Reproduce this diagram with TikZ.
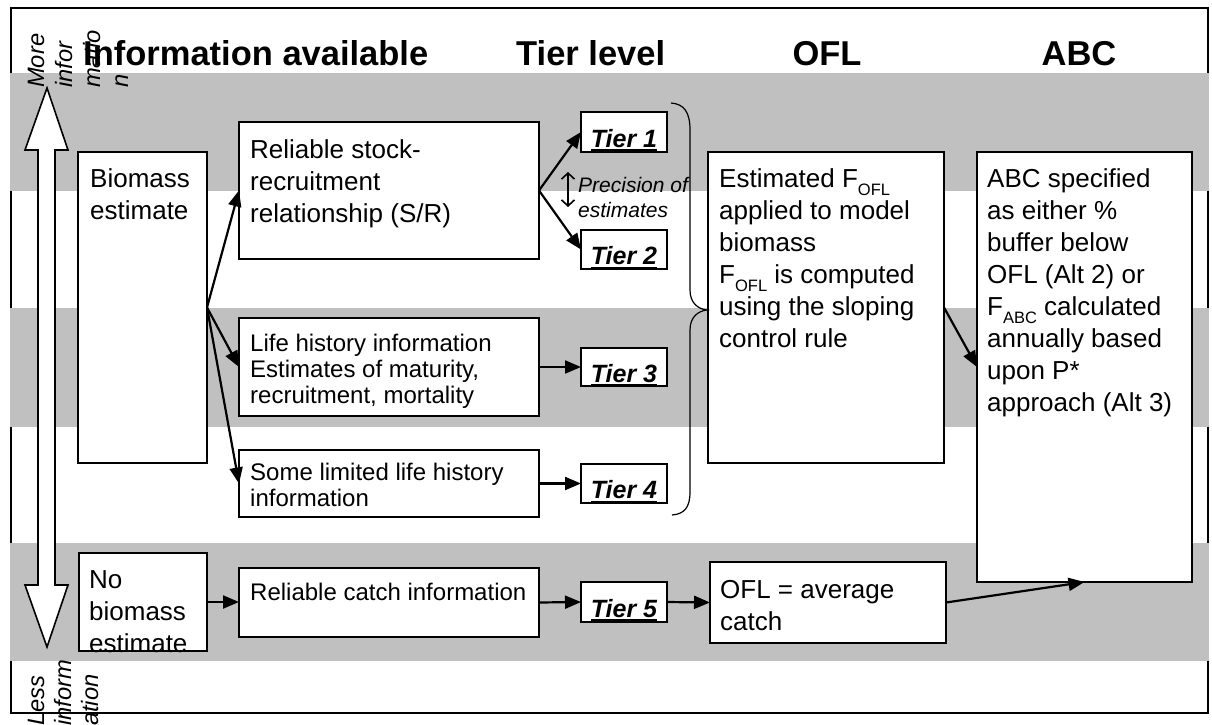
\documentclass[tikz,border=0pt]{standalone}
\usepackage{fontspec}
\setmainfont{Liberation Sans}
\usetikzlibrary{arrows.meta}
\definecolor{band}{RGB}{192,192,192}
\newcommand\tb[1]{\parbox[t]{400pt}{\raggedright #1}}
\newcommand\sbs[1]{\raisebox{-8pt}[0pt][0pt]{\fontsize{16.5}{16.5}\selectfont #1}}
\newcommand\tul[1]{\setbox0=\hbox{#1}\rlap{\rule[-4pt]{\wd0}{2pt}}\box0}
\newcommand\tierlab[1]{\raisebox{-15pt}[0pt][0pt]{\tul{#1}}}
\begin{document}
\begin{tikzpicture}[x=1pt,y=-1pt,
  box/.style={draw, line width=1.8pt, fill=white, inner sep=0pt, outer sep=0pt, anchor=north west},
  tierbox/.style={box, minimum width=86pt, font=\bfseries\itshape\fontsize{25}{30}\selectfont},
  arr/.style={line width=2.2pt, -{Triangle[length=16pt,width=13pt]}},
  txtA/.style={inner sep=0pt, anchor=base west, font=\fontsize{26}{32}\selectfont},
  txtB/.style={inner sep=0pt, anchor=base west, font=\fontsize{24}{26}\selectfont},
  hdr/.style={inner sep=0pt, font=\bfseries\fontsize{34.5}{40}\selectfont},
  rot/.style={inner sep=0pt, anchor=base west, rotate=90, font=\itshape\fontsize{23.7}{28}\selectfont},
  prec/.style={inner sep=0pt, anchor=base west, font=\itshape\fontsize{21}{25}\selectfont},
  bigarrow/.style={draw, fill=white, line width=1.6pt, line join=miter},
  brace/.style={draw, line width=1.2pt},
  dbl/.style={line width=1.6pt, {Straight Barb[length=6pt,width=13pt]}-{Straight Barb[length=6pt,width=13pt]}}
]
\useasboundingbox (0,0) rectangle (1212,725);
\fill[white] (0,0) rectangle (1212,725);
% outer border
\draw[line width=1.8pt] (11,8) rectangle (1208,713);
% bands
\fill[band] (10,73) rectangle (1209,191);
\fill[band] (10,308) rectangle (1209,427);
\fill[band] (10,543) rectangle (1209,661);
% big double arrow
\draw[bigarrow] (47,88) -- (68,150) -- (55,150) -- (55,585) -- (68,585) -- (47,647)
  -- (25,585) -- (38,585) -- (38,150) -- (25,150) -- cycle;
% rotated side texts
\node[rot] (m1) at (44,88) {More};
\node[rot] (m2) at (72,88) {infor};
\node[rot] (m3) at (100,88) {matio};
\node[rot] (m4) at (128,88) {n};
\node[rot] (l1) at (44,726) {Less};
\node[rot] (l2) at (71,726) {inform};
\node[rot] (l3) at (98,726) {ation};
% headers
\node[hdr, anchor=base west] (h1) at (83,66) {Information available};
\node[hdr, anchor=base west] (h2) at (516,66) {Tier level};
\node[hdr, anchor=base] (h3) at (827,66) {OFL};
\node[hdr, anchor=base] (h4) at (1079,66) {ABC};
% boxes
\node[box, minimum width=129pt, minimum height=311pt] (bio) at (78,152) {};
\node[box, minimum width=300pt, minimum height=137pt] (sr) at (239,122) {};
\node[box, minimum width=236pt, minimum height=311pt] (ofl) at (708,152) {};
\node[box, minimum width=215pt, minimum height=430pt] (abc) at (977,152) {};
\node[box, minimum width=300pt, minimum height=98pt] (lh) at (239,318) {};
\node[box, minimum width=300pt, minimum height=67pt] (sl) at (239,450) {};
\node[box, minimum width=128pt, minimum height=98pt] (nob) at (79,553) {};
\node[box, minimum width=300pt, minimum height=69pt] (rc) at (239,568) {};
\node[box, minimum width=236pt, minimum height=81pt] (avg) at (710,562) {};
\node[tierbox, minimum height=40pt] (t1) at (581,112) {\tierlab{Tier 1}};
\node[tierbox, minimum height=39pt] (t2) at (581,230) {\tierlab{Tier 2}};
\node[tierbox, minimum height=38pt] (t3) at (581,348) {\tierlab{Tier 3}};
\node[tierbox, minimum height=39pt] (t4) at (581,464) {\tierlab{Tier 4}};
\node[tierbox, minimum height=40pt] (t5) at (581,582) {\tierlab{Tier 5}};
% box texts
\node[txtA] (biot) at (90,187) {\tb{Biomass\\estimate}};
\node[txtA] (srt) at (250,158) {\tb{Reliable stock-\\recruitment\\relationship (S/R)}};
\node[txtA] (oflt) at (719,187) {\tb{Estimated F\sbs{OFL}\\applied to model\\biomass\\F\sbs{OFL} is computed\\using the sloping\\control rule}};
\node[txtA] (abct) at (987,187) {\tb{ABC specified\\as either \%\\buffer below\\OFL (Alt 2) or\\F\sbs{ABC} calculated\\annually based\\upon P*\\approach (Alt 3)}};
\node[txtB] (lht) at (250,351) {\tb{Life history information\\Estimates of maturity,\\recruitment, mortality}};
\node[txtB] (slt) at (250,480) {\tb{Some limited life history\\information}};
\node[txtA] (nobt) at (89,588) {\tb{No\\biomass\\estimate}};
\node[txtB] (rct) at (250,600) {\tb{Reliable catch information}};
\node[txtA] (avgt) at (720,598) {\tb{OFL = average\\catch}};
% precision
\node[prec] (pr) at (578,192) {\tb{Precision of\\estimates}};
\coordinate (pa) at (568,172);
\coordinate (pb) at (568,207);
\draw[dbl] (pa) -- (pb);
% brace
\draw[brace] (671,103) .. controls (684,104) and (690,112) .. (690,130) -- (690,290)
  .. controls (690,303) and (698,309) .. (707,310)
  .. controls (698,311) and (690,317) .. (690,330) -- (690,492)
  .. controls (690,508) and (684,514) .. (672,515);
% arrows
\draw[arr] (bio.east) -- (sr.west);
\draw[arr] (bio.east) -- (lh.west);
\draw[arr] (bio.east) -- (sl.west);
\draw[arr] (sr.east) -- (t1.west);
\draw[arr] (sr.east) -- (t2.west);
\draw[arr] (lh.east) -- (t3.west);
\draw[arr] (sl.east) -- (t4.west);
\draw[arr] (nob.east) -- (nob.east -| rc.west);
\draw[arr] (rc.east) -- (t5.west);
\draw[arr] (t5.east) -- (avg.west);
\draw[arr] (avg.east) -- (abc.south);
\draw[arr] (ofl.east) -- (abc.west);
\end{tikzpicture}
\end{document}
